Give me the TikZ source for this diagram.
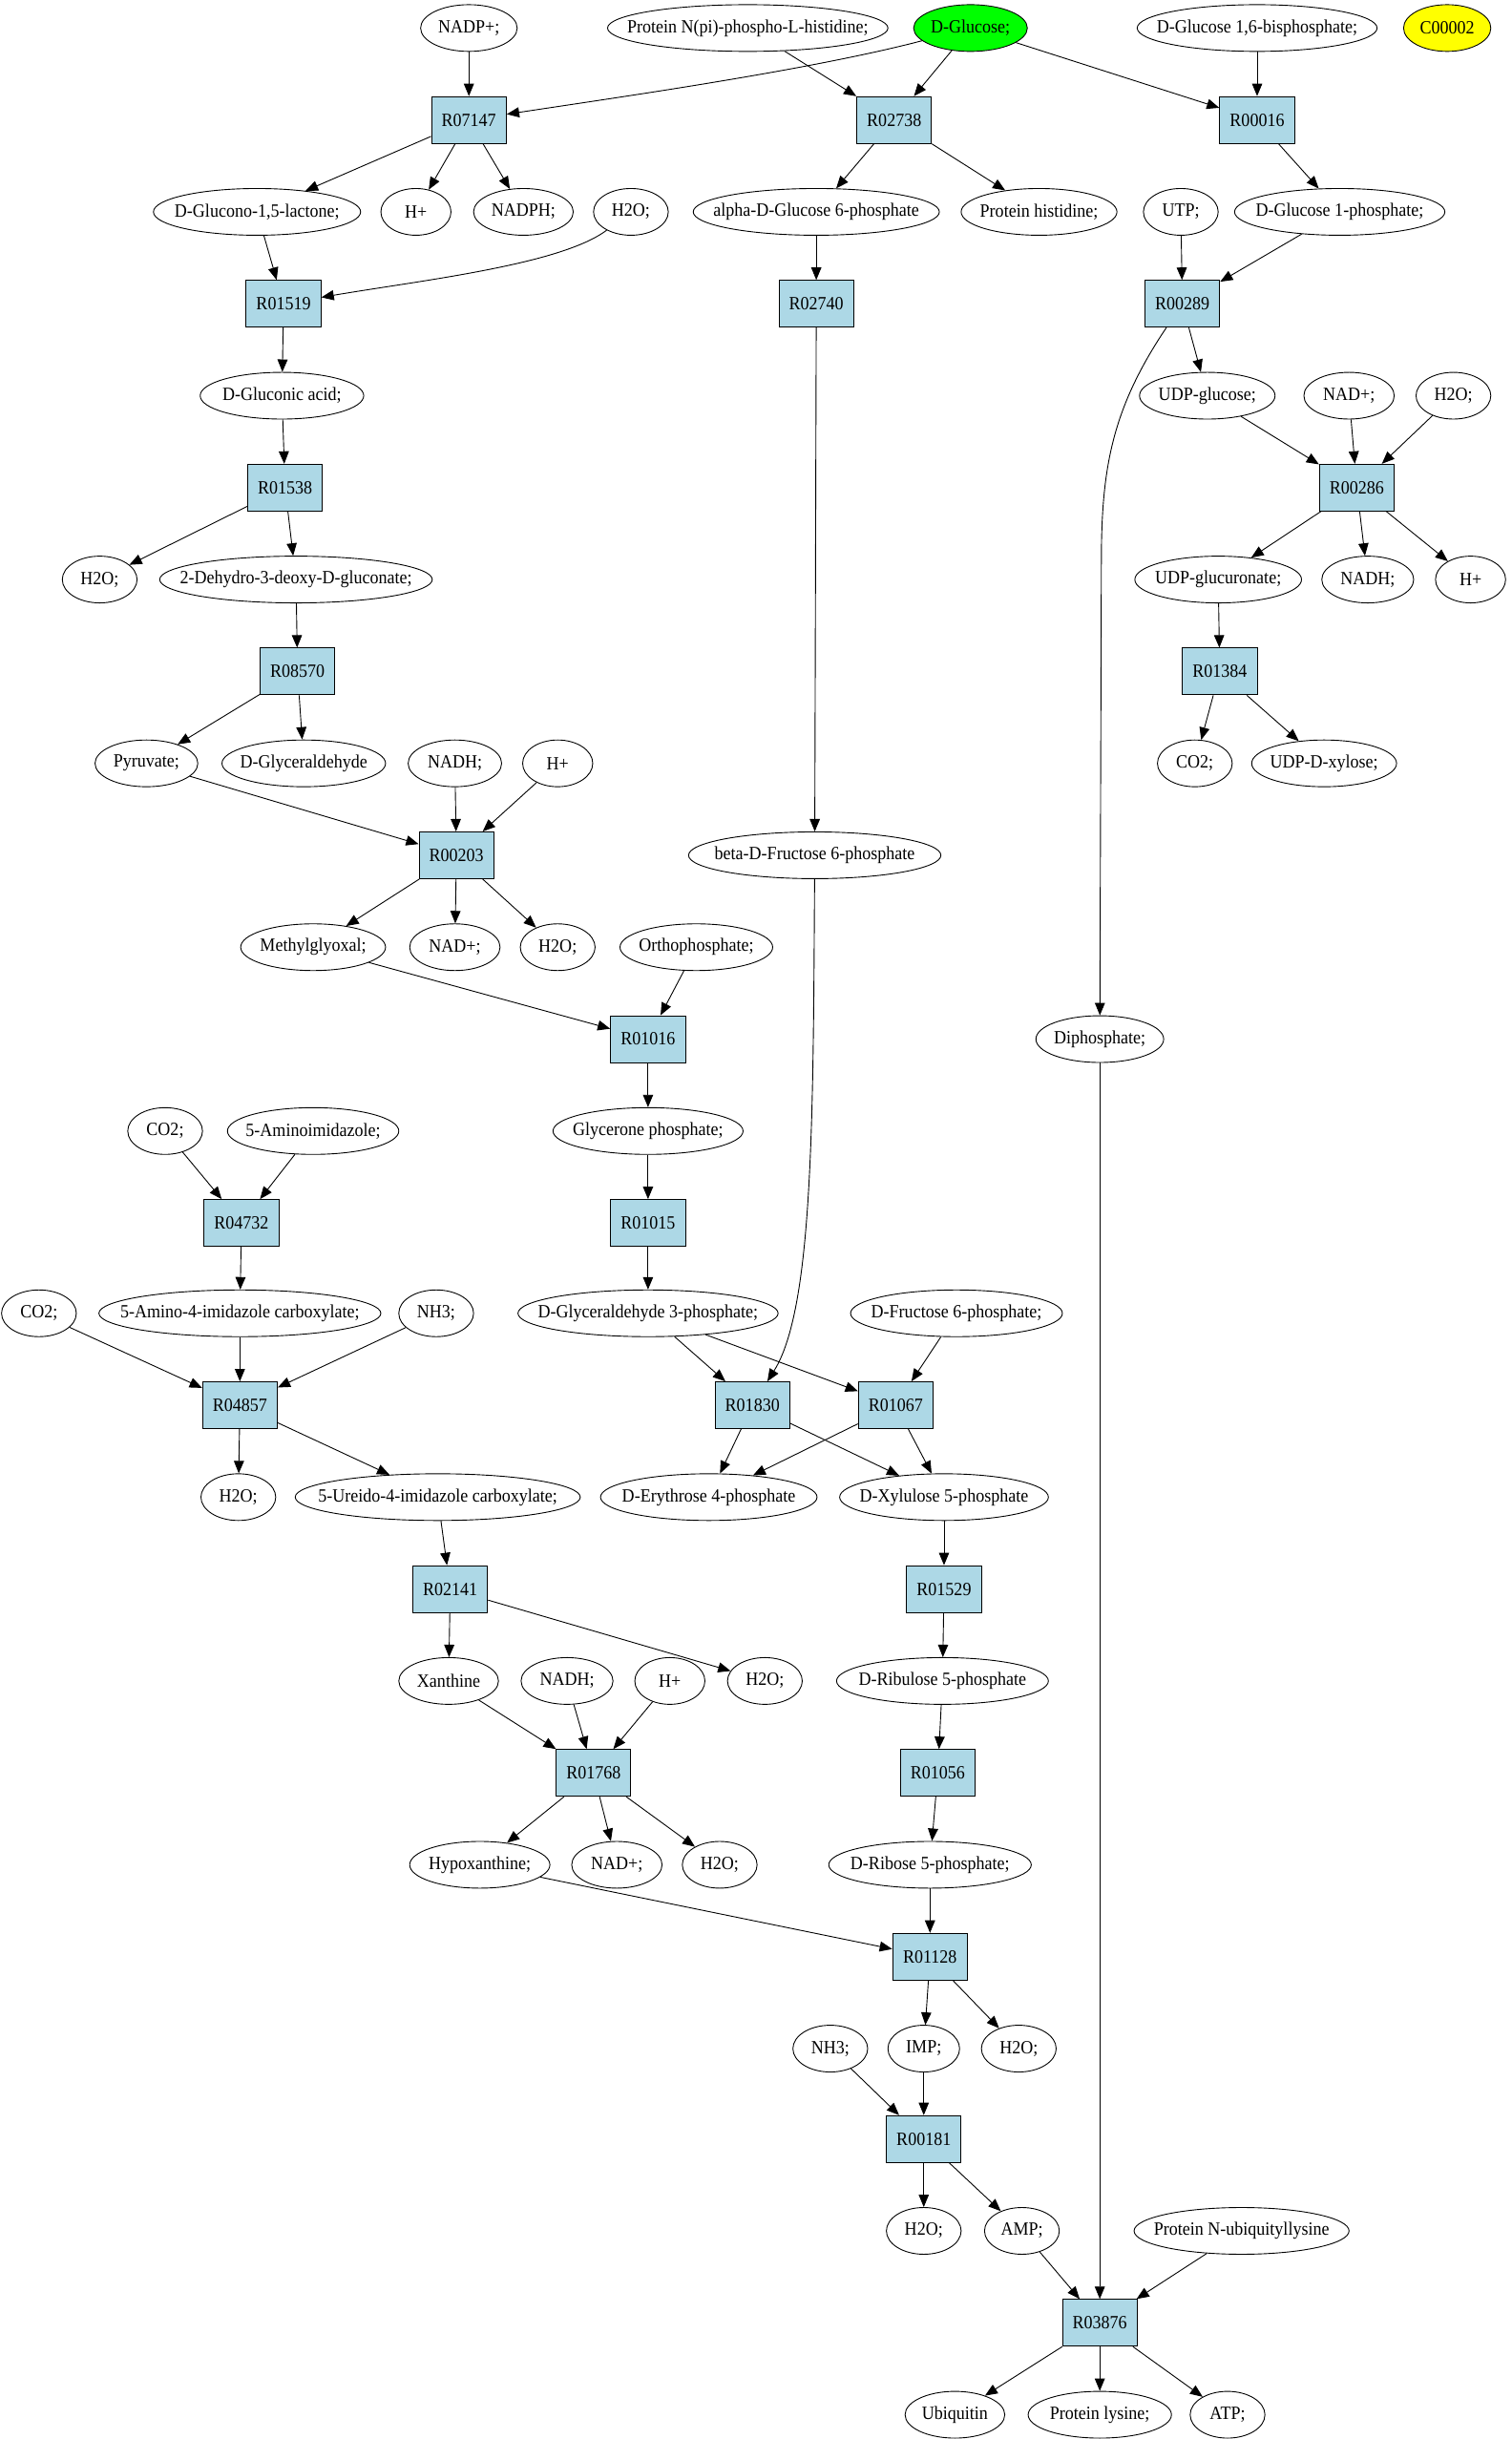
\documentclass[tikz,border=0pt]{standalone}
\usepackage{fontspec}
\setmainfont{Liberation Serif}[FakeStretch=0.92]
\usetikzlibrary{shapes.geometric,arrows.meta}
\definecolor{boxblue}{RGB}{173,216,230}
\definecolor{pgreen}{RGB}{0,255,0}
\definecolor{pyellow}{RGB}{255,255,0}
\tikzset{
  elp/.style={ellipse,draw,inner sep=0pt,minimum height=30pt,line width=0.55pt,font=\fontsize{12}{14}\selectfont},
  rbox/.style={rectangle,draw,fill=boxblue,inner sep=0pt,minimum width=48pt,minimum height=30pt,line width=0.6pt,font=\fontsize{12}{14}\selectfont},
  arr/.style={-{Triangle[length=8pt,width=6.5pt]},line width=0.55pt}
}
\newcommand\el[6][]{\node[elp,minimum width=#5pt,#1] (#2) at (#3,#4) {\makebox[0pt]{#6}};}
\newcommand\rx[3]{\node[rbox] (#1) at (#2,#3) {#1};}
\begin{document}
\begin{tikzpicture}[x=1pt,y=-1pt]
\useasboundingbox (0,0) rectangle (970,1565.6);
% row 0
\el{nadpp}{301}{18}{62}{NADP+;}
\el{pnph}{480}{18}{180}{Protein N(pi)-phospho-L-histidine;}
\el[fill=pgreen]{dglc}{623}{18}{73}{D-Glucose;}
\el{dg16}{807}{18}{154}{D-Glucose 1,6-bisphosphate;}
\el[fill=pyellow]{c2}{929}{18}{56}{C00002}
% row 1
\rx{R07147}{301}{77}
\rx{R02738}{574}{77}
\rx{R00016}{807}{77}
% row 2
\el{glac}{165}{136}{133}{D-Glucono-1,5-lactone;}
\el{hp1}{267}{136}{45}{H+}
\el{nadph}{336}{136}{64}{NADPH;}
\el{w1}{405}{136}{48}{H2O;}
\el{ag6p}{524}{136}{158}{alpha-D-Glucose 6-phosphate}
\el{phis}{667}{136}{100}{Protein histidine;}
\el{utp}{758}{136}{48}{UTP;}
\el{g1p}{860}{136}{135}{D-Glucose 1-phosphate;}
% row 3
\rx{R01519}{182}{195}
\rx{R02740}{524}{195}
\rx{R00289}{759}{195}
% row 4
\el{gla}{181}{254}{105}{D-Gluconic acid;}
\el{udpg}{775}{254}{87}{UDP-glucose;}
\el{nad1}{866}{254}{58}{NAD+;}
\el{w2}{933}{254}{48}{H2O;}
% row 5
\rx{R01538}{183}{313}
\rx{R00286}{871}{313}
% row 6
\el{w3}{64}{372}{48}{H2O;}
\el{kdg}{190}{372}{175}{2-Dehydro-3-deoxy-D-gluconate;}
\el{udpga}{782}{372}{107}{UDP-glucuronate;}
\el{nadh1}{878}{372}{59}{NADH;}
\el{hp2}{944}{372}{45}{H+}
% row 7
\rx{R08570}{191}{431}
\rx{R01384}{783}{431}
% row 8
\el{pyr}{94}{490}{66}{Pyruvate;}
\el{dgald}{195}{490}{105}{D-Glyceraldehyde}
\el{nadh2}{292}{490}{60}{NADH;}
\el{hp3}{358}{490}{45}{H+}
\el{co2a}{767}{490}{48}{CO2;}
\el{udpx}{850}{490}{93}{UDP-D-xylose;}
% row 9
\rx{R00203}{293}{549}
\el{bf6p}{523}{549}{162}{beta-D-Fructose 6-phosphate}
% row 10
\el{mgo}{201}{608}{93}{Methylglyoxal;}
\el{nad2}{292}{608}{58}{NAD+;}
\el{w4}{358}{608}{48}{H2O;}
\el{opi}{447}{608}{98}{Orthophosphate;}
% row 11
\rx{R01016}{416}{667}
\el{dpi}{706}{667}{82}{Diphosphate;}
% row 12
\el{co2b}{106}{726}{48}{CO2;}
\el{aim}{201}{726}{110}{5-Aminoimidazole;}
\el{dhap}{416}{726}{122}{Glycerone phosphate;}
% row 13
\rx{R04732}{155}{785}
\rx{R01015}{416}{785}
% row 14
\el{co2c}{25}{843}{48}{CO2;}
\el{caim}{154}{843}{181}{5-Amino-4-imidazole carboxylate;}
\el{nh3a}{280}{843}{48}{NH3;}
\el{g3p}{416}{843}{167}{D-Glyceraldehyde 3-phosphate;}
\el{f6p}{614}{843}{136}{D-Fructose 6-phosphate;}
% row 15
\rx{R04857}{154}{902}
\rx{R01830}{483}{902}
\rx{R01067}{575}{902}
% row 16
\el{w5}{153}{961}{48}{H2O;}
\el{ucaim}{281}{961}{183}{5-Ureido-4-imidazole carboxylate;}
\el{e4p}{455}{961}{139}{D-Erythrose 4-phosphate}
\el{xu5p}{606}{961}{134}{D-Xylulose 5-phosphate}
% row 17
\rx{R02141}{289}{1020}
\rx{R01529}{606}{1020}
% row 18
\el{xan}{288}{1079}{64}{Xanthine}
\el{nadh3}{364}{1079}{59}{NADH;}
\el{hp4}{430}{1079}{45}{H+}
\el{w6}{491}{1079}{48}{H2O;}
\el{ru5p}{605}{1079}{136}{D-Ribulose 5-phosphate}
% row 19
\rx{R01768}{381}{1138}
\rx{R01056}{602}{1138}
% row 20
\el{hyp}{308}{1197}{90}{Hypoxanthine;}
\el{nad3}{396}{1197}{58}{NAD+;}
\el{w7}{462}{1197}{48}{H2O;}
\el{r5p}{597}{1197}{130}{D-Ribose 5-phosphate;}
% row 21
\rx{R01128}{597}{1256}
% row 22
\el{nh3b}{533}{1315}{48}{NH3;}
\el{imp}{593}{1315}{46}{IMP;}
\el{w8}{654}{1315}{48}{H2O;}
% row 23
\rx{R00181}{593}{1373}
% row 24
\el{w9}{593}{1432}{48}{H2O;}
\el{amp}{656}{1432}{48}{AMP;}
\el{pnub}{797}{1432}{138}{Protein N-ubiquityllysine}
% row 25
\rx{R03876}{706}{1491}
% row 26
\el{ubq}{613}{1550}{64}{Ubiquitin}
\el{plys}{706}{1550}{92}{Protein lysine;}
\el{atp}{788}{1550}{48}{ATP;}
% ---------------- edges
\draw[arr] (nadpp) -- (R07147);
\draw[arr] (dglc) .. controls (520,45) and (400,62) .. (R07147);
\draw[arr] (pnph) -- (R02738);
\draw[arr] (dglc) -- (R02738);
\draw[arr] (dglc) -- (R00016);
\draw[arr] (dg16) -- (R00016);
\draw[arr] (R07147) -- (glac);
\draw[arr] (R07147) -- (hp1);
\draw[arr] (R07147) -- (nadph);
\draw[arr] (R02738) -- (ag6p);
\draw[arr] (R02738) -- (phis);
\draw[arr] (R00016) -- (g1p);
\draw[arr] (glac) -- (R01519);
\draw[arr] (w1) .. controls (360,170) and (270,180) .. (R01519);
\draw[arr] (ag6p) -- (R02740);
\draw[arr] (utp) -- (R00289);
\draw[arr] (g1p) -- (R00289);
\draw[arr] (R01519) -- (gla);
\draw[arr] (R02740) -- (bf6p);
\draw[arr] (R00289) -- (udpg);
\draw[arr] (R00289) .. controls (714,262) and (707,300) .. (707,360) -- (dpi);
\draw[arr] (gla) -- (R01538);
\draw[arr] (udpg) -- (R00286);
\draw[arr] (nad1) -- (R00286);
\draw[arr] (w2) -- (R00286);
\draw[arr] (R01538) -- (w3);
\draw[arr] (R01538) -- (kdg);
\draw[arr] (R00286) -- (udpga);
\draw[arr] (R00286) -- (nadh1);
\draw[arr] (R00286) -- (hp2);
\draw[arr] (kdg) -- (R08570);
\draw[arr] (udpga) -- (R01384);
\draw[arr] (R08570) -- (pyr);
\draw[arr] (R08570) -- (dgald);
\draw[arr] (R01384) -- (co2a);
\draw[arr] (R01384) -- (udpx);
\draw[arr] (pyr) -- (R00203);
\draw[arr] (nadh2) -- (R00203);
\draw[arr] (hp3) -- (R00203);
\draw[arr] (R00203) -- (mgo);
\draw[arr] (R00203) -- (nad2);
\draw[arr] (R00203) -- (w4);
\draw[arr] (mgo) -- (R01016);
\draw[arr] (opi) -- (R01016);
\draw[arr] (R01016) -- (dhap);
\draw[arr] (dhap) -- (R01015);
\draw[arr] (R01015) -- (g3p);
\draw[arr] (co2b) -- (R04732);
\draw[arr] (aim) -- (R04732);
\draw[arr] (R04732) -- (caim);
\draw[arr] (co2c) -- (R04857);
\draw[arr] (caim) -- (R04857);
\draw[arr] (nh3a) -- (R04857);
\draw[arr] (R04857) -- (w5);
\draw[arr] (R04857) -- (ucaim);
\draw[arr] (g3p) -- (R01830);
\draw[arr] (g3p) -- (R01067);
\draw[arr] (bf6p) .. controls (522,720) and (522,840) .. (R01830);
\draw[arr] (f6p) -- (R01067);
\draw[arr] (R01830) -- (e4p);
\draw[arr] (R01830) -- (xu5p);
\draw[arr] (R01067) -- (e4p);
\draw[arr] (R01067) -- (xu5p);
\draw[arr] (ucaim) -- (R02141);
\draw[arr] (xu5p) -- (R01529);
\draw[arr] (R02141) -- (xan);
\draw[arr] (R02141) -- (w6);
\draw[arr] (R01529) -- (ru5p);
\draw[arr] (xan) -- (R01768);
\draw[arr] (nadh3) -- (R01768);
\draw[arr] (hp4) -- (R01768);
\draw[arr] (ru5p) -- (R01056);
\draw[arr] (R01768) -- (hyp);
\draw[arr] (R01768) -- (nad3);
\draw[arr] (R01768) -- (w7);
\draw[arr] (R01056) -- (r5p);
\draw[arr] (hyp) -- (R01128);
\draw[arr] (r5p) -- (R01128);
\draw[arr] (R01128) -- (imp);
\draw[arr] (R01128) -- (w8);
\draw[arr] (nh3b) -- (R00181);
\draw[arr] (imp) -- (R00181);
\draw[arr] (R00181) -- (w9);
\draw[arr] (R00181) -- (amp);
\draw[arr] (amp) -- (R03876);
\draw[arr] (pnub) -- (R03876);
\draw[arr] (dpi) -- (R03876);
\draw[arr] (R03876) -- (ubq);
\draw[arr] (R03876) -- (plys);
\draw[arr] (R03876) -- (atp);
\end{tikzpicture}
\end{document}
